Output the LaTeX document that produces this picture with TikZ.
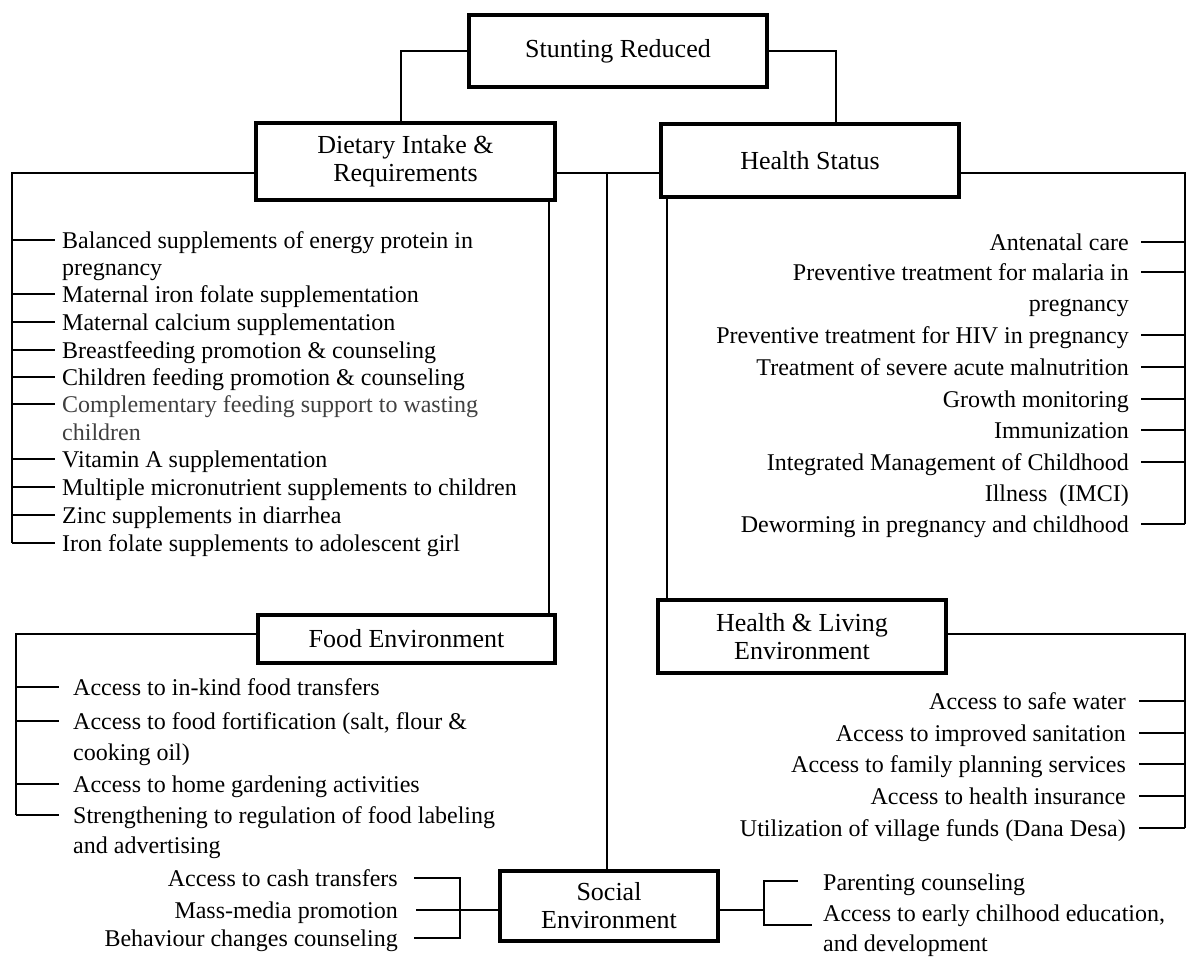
\documentclass[tikz,border=0pt]{standalone}
\usepackage{fontspec}
\setmainfont{Liberation Serif}
\newcommand{\fs}{\fontsize{24}{27.5}\selectfont}
\newcommand{\fb}{\fontsize{26}{28}\selectfont}
\begin{document}
\begin{tikzpicture}[x=1pt,y=-1pt,
  box/.style={draw,line width=4pt,inner sep=0pt,align=center,font=\fb},
  conn/.style={line width=1.3pt},
  li/.style={anchor=west,inner sep=0pt,text height=16pt,text depth=0pt,font=\fs},
  ri/.style={anchor=east,inner sep=0pt,text height=16pt,text depth=0pt,font=\fs}]
\useasboundingbox (0,0) rectangle (1186,956);
\fill[white] (0,0) rectangle (1186,956);
% boxes
\node[box,minimum width=298pt,minimum height=72pt] (S) at (618,51) {Stunting Reduced};
\node[box,minimum width=299pt,minimum height=77pt] (D) at (405.5,161.5) {Dietary Intake \&\\Requirements};
\node[box,minimum width=298pt,minimum height=73pt] (H) at (810,160.5) {Health Status};
\node[box,minimum width=297pt,minimum height=48pt] (F) at (406.5,639) {Food Environment};
\node[box,minimum width=288pt,minimum height=73pt] (L) at (802,636.5) {Health \& Living\\Environment};
\node[box,minimum width=218pt,minimum height=70pt] (E) at (609,906) {Social\\Environment};
% level coordinates
\coordinate (y1) at (0,173);
\coordinate (y2) at (0,634);
\coordinate (y3) at (0,910);
\coordinate (dbar) at (12,0);
\coordinate (hbar) at (1185,0);
\coordinate (fbar) at (16,0);
\coordinate (sl) at (460,0);
\coordinate (sr) at (764,0);
\coordinate (dv) at (549,0);
\coordinate (hv) at (667,0);
\coordinate (spine) at (607,0);
% top connectors
\draw[conn] (S.west) -| ([xshift=-4.5pt]D.north);
\draw[conn] (S.east) -| ([xshift=26pt]H.north);
\draw[conn] (D.east |- y1) -- (H.west |- y1);
\draw[conn] (spine |- y1) -- (spine |- E.north);
\draw[conn] (dv |- D.south) -- (dv |- F.north);
\draw[conn] (hv |- H.south) -- (hv |- L.north);
% Dietary items
\node[li] (d1) at (62,240) {Balanced supplements of energy protein in};
\node[li] (d1b) at (62,267) {pregnancy};
\node[li] (d2) at (62,294) {Maternal iron folate supplementation};
\node[li] (d3) at (62,322) {Maternal calcium supplementation};
\node[li] (d4) at (62,350) {Breastfeeding promotion \& counseling};
\node[li] (d5) at (62,377) {Children feeding promotion \& counseling};
\node[li,text=black!75] (d6) at (62,404) {Complementary feeding support to wasting};
\node[li,text=black!75] (d6b) at (62,432) {children};
\node[li] (d7) at (62,459) {Vitamin A supplementation};
\node[li] (d8) at (62,487) {Multiple micronutrient supplements to children};
\node[li] (d9) at (62,515) {Zinc supplements in diarrhea};
\node[li] (d10) at (62,543) {Iron folate supplements to adolescent girl};
\draw[conn] (D.west |- y1) -- (dbar |- y1) -- (dbar |- d10.west);
\foreach \n in {d1,d2,d3,d4,d5,d6,d7,d8,d9,d10}
  \draw[conn] (dbar |- \n.west) -- ([xshift=-7pt]\n.west);
% Health items
\node[ri] (h1) at (1129,242) {Antenatal care};
\node[ri] (h2) at (1129,272) {Preventive treatment for malaria in};
\node[ri] (h2b) at (1129,303) {pregnancy};
\node[ri] (h3) at (1129,335) {Preventive treatment for HIV in pregnancy};
\node[ri] (h4) at (1129,367) {Treatment of severe acute malnutrition};
\node[ri] (h5) at (1129,399) {Growth monitoring};
\node[ri] (h6) at (1129,430) {Immunization};
\node[ri] (h7) at (1129,462) {Integrated Management of Childhood};
\node[ri] (h7b) at (1129,493) {Illness\ \ (IMCI)};
\node[ri] (h8) at (1129,524) {Deworming in pregnancy and childhood};
\draw[conn] (H.east |- y1) -- (hbar |- y1) -- (hbar |- h8.east);
\foreach \n in {h1,h2,h3,h4,h5,h6,h7,h8}
  \draw[conn] ([xshift=12pt]\n.east) -- (hbar |- \n.east);
% Food items
\node[li] (f1) at (73,687) {Access to in-kind food transfers};
\node[li] (f2) at (73,721) {Access to food fortification (salt, flour \&};
\node[li] (f2b) at (73,752) {cooking oil)};
\node[li] (f3) at (73,784) {Access to home gardening activities};
\node[li] (f4) at (73,815) {Strengthening to regulation of food labeling};
\node[li] (f4b) at (73,845) {and advertising};
\draw[conn] (F.west |- y2) -- (fbar |- y2) -- (fbar |- f4.west);
\foreach \n in {f1,f2,f3,f4}
  \draw[conn] (fbar |- \n.west) -- ([xshift=-14pt]\n.west);
% Health & Living items
\node[ri] (l1) at (1126,701) {Access to safe water};
\node[ri] (l2) at (1126,733) {Access to improved sanitation};
\node[ri] (l3) at (1126,764) {Access to family planning services};
\node[ri] (l4) at (1126,796) {Access to health insurance};
\node[ri] (l5) at (1126,828) {Utilization of village funds (Dana Desa)};
\draw[conn] (L.east |- y2) -- (hbar |- y2) -- (hbar |- l5.east);
\foreach \n in {l1,l2,l3,l4,l5}
  \draw[conn] ([xshift=13pt]\n.east) -- (hbar |- \n.east);
% Social left
\node[ri] (s1) at (398,878) {Access to cash transfers};
\node[ri] (s2) at (398,910) {Mass-media promotion};
\node[ri] (s3) at (398,938) {Behaviour changes counseling};
\draw[conn] ([xshift=16pt]s1.east) -- (sl |- s1.east) -- (sl |- s3.east) -- ([xshift=16pt]s3.east);
\draw[conn] ([xshift=18pt]s2.east) -- (E.west |- s2.east);
% Social right
\node[li] (p1) at (823,882) {Parenting counseling};
\node[li] (p2) at (823,913) {Access to early chilhood education,};
\node[li] (p2b) at (823,943) {and development};
\coordinate (pt1) at (798,881);
\coordinate (pt2) at (812,925);
\draw[conn] (E.east |- y3) -- (sr |- y3);
\draw[conn] (pt1) -- (sr |- pt1) -- (sr |- pt2) -- (pt2);
\end{tikzpicture}
\end{document}
